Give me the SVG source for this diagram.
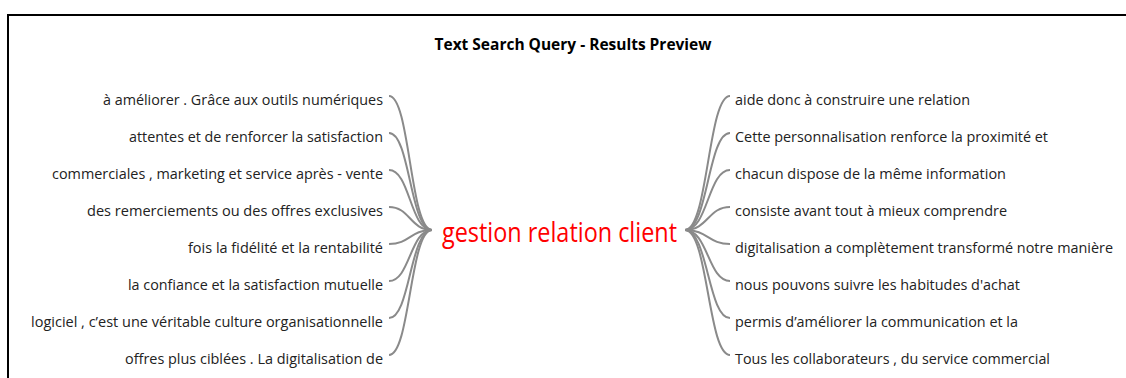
<svg xmlns="http://www.w3.org/2000/svg" width="1126" height="378" viewBox="0 0 1126 378">
<style>
.frame{fill:#fff;stroke:#000;stroke-width:2}
.title{font-family:"Open Sans","Liberation Sans",Arial,sans-serif;font-weight:bold;font-size:15.5px;fill:#000}
.lbl{font-family:"Open Sans","Liberation Sans",Arial,sans-serif;font-size:15px;fill:#222}
.l{text-anchor:end}
.center{font-family:"Open Sans","Liberation Sans",Arial,sans-serif;font-size:27px;fill:#ff0000}
.link{fill:none;stroke:#8a8a8a;stroke-width:2}
</style>
<rect x="0" y="0" width="1126" height="378" fill="#fff"/>
<rect class="frame" x="8" y="15" width="1130" height="380"/>
<text class="title" x="573" y="50" text-anchor="middle" textLength="277" lengthAdjust="spacingAndGlyphs">Text Search Query - Results Preview</text>
<g id="links">
<path class="link" d="M432,230 C410,230 410,96 389,96"/>
<path class="link" d="M432,230 C410,230 410,133 389,133"/>
<path class="link" d="M432,230 C410,230 410,170 389,170"/>
<path class="link" d="M432,230 C410,230 410,207 389,207"/>
<path class="link" d="M432,230 C410,230 410,244 389,244"/>
<path class="link" d="M432,230 C410,230 410,281 389,281"/>
<path class="link" d="M432,230 C410,230 410,318 389,318"/>
<path class="link" d="M432,230 C410,230 410,355 389,355"/>
<path class="link" d="M685,230 C708,230 708,96 730,96"/>
<path class="link" d="M685,230 C708,230 708,133 730,133"/>
<path class="link" d="M685,230 C708,230 708,170 730,170"/>
<path class="link" d="M685,230 C708,230 708,207 730,207"/>
<path class="link" d="M685,230 C708,230 708,244 730,244"/>
<path class="link" d="M685,230 C708,230 708,281 730,281"/>
<path class="link" d="M685,230 C708,230 708,318 730,318"/>
<path class="link" d="M685,230 C708,230 708,355 730,355"/>
</g>
<g id="center"><text class="center" x="442" y="242" textLength="235" lengthAdjust="spacingAndGlyphs">gestion relation client</text></g>
<g id="left1"><text class="lbl l" x="383" y="105" textLength="280" lengthAdjust="spacingAndGlyphs">à améliorer . Grâce aux outils numériques</text></g>
<g id="left2"><text class="lbl l" x="383" y="142" textLength="254" lengthAdjust="spacingAndGlyphs">attentes et de renforcer la satisfaction</text></g>
<g id="left3"><text class="lbl l" x="383" y="179" textLength="331" lengthAdjust="spacingAndGlyphs">commerciales , marketing et service après - vente</text></g>
<g id="left4"><text class="lbl l" x="383" y="216" textLength="296" lengthAdjust="spacingAndGlyphs">des remerciements ou des offres exclusives</text></g>
<g id="left5"><text class="lbl l" x="383" y="253" textLength="195" lengthAdjust="spacingAndGlyphs">fois la fidélité et la rentabilité</text></g>
<g id="left6"><text class="lbl l" x="383" y="290" textLength="255" lengthAdjust="spacingAndGlyphs">la confiance et la satisfaction mutuelle</text></g>
<g id="left7"><text class="lbl l" x="383" y="327" textLength="352" lengthAdjust="spacingAndGlyphs">logiciel , c’est une véritable culture organisationnelle</text></g>
<g id="left8"><text class="lbl l" x="383" y="364" textLength="258" lengthAdjust="spacingAndGlyphs">offres plus ciblées . La digitalisation de</text></g>
<g id="right1"><text class="lbl" x="735" y="105" textLength="235" lengthAdjust="spacingAndGlyphs">aide donc à construire une relation</text></g>
<g id="right2"><text class="lbl" x="735" y="142" textLength="313" lengthAdjust="spacingAndGlyphs">Cette personnalisation renforce la proximité et</text></g>
<g id="right3"><text class="lbl" x="735" y="179" textLength="271" lengthAdjust="spacingAndGlyphs">chacun dispose de la même information</text></g>
<g id="right4"><text class="lbl" x="735" y="216" textLength="272" lengthAdjust="spacingAndGlyphs">consiste avant tout à mieux comprendre</text></g>
<g id="right5"><text class="lbl" x="735" y="253" textLength="378" lengthAdjust="spacingAndGlyphs">digitalisation a complètement transformé notre manière</text></g>
<g id="right6"><text class="lbl" x="735" y="290" textLength="285" lengthAdjust="spacingAndGlyphs">nous pouvons suivre les habitudes d'achat</text></g>
<g id="right7"><text class="lbl" x="735" y="327" textLength="283" lengthAdjust="spacingAndGlyphs">permis d’améliorer la communication et la</text></g>
<g id="right8"><text class="lbl" x="735" y="364" textLength="315" lengthAdjust="spacingAndGlyphs">Tous les collaborateurs , du service commercial</text></g>
</svg>
